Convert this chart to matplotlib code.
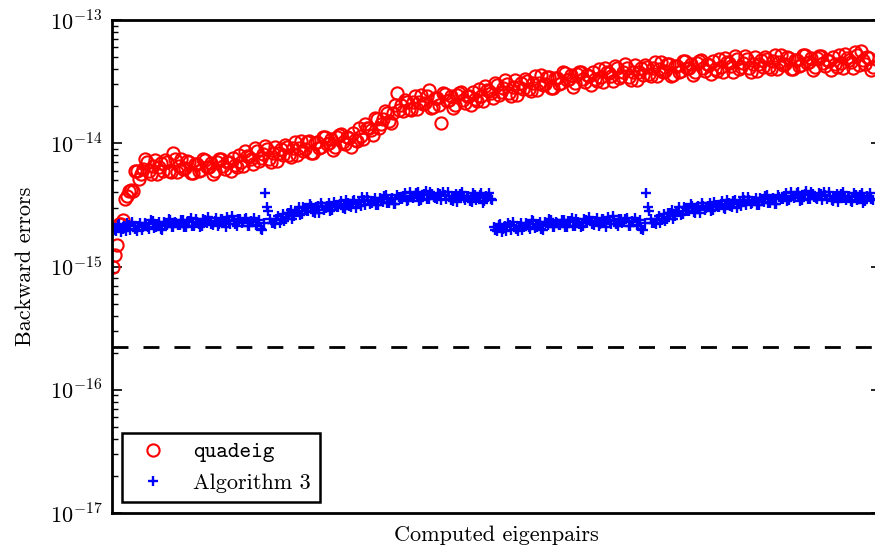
import numpy as np
import matplotlib
matplotlib.use("Agg")
import matplotlib.pyplot as plt
from matplotlib.ticker import LogLocator, FuncFormatter, NullFormatter

# ---------------- data (units of 1e-15) ----------------
quadeig_err = [
    1.0, 1.24, 1.5, 2.2, 2.2, 2.4, 3.5, 3.7, 4.1, 4.2,
    4.1, 5.9, 5.9, 5.1, 5.6, 6.2, 7.4, 7.0, 6.0, 5.6,
    6.5, 7.3, 5.6, 6.4, 6.9, 6.0, 7.3, 7.0, 6.0, 5.8,
    8.3, 7.5, 5.8, 6.5, 7.5, 6.2, 6.3, 7.2, 7.1, 5.7,
    5.7, 6.8, 6.8, 6.0, 6.1, 7.4, 7.3, 6.4, 6.4, 6.9,
    5.6, 5.9, 7.1, 7.4, 7.4, 6.5, 6.2, 7.1, 7.0, 5.9,
    7.6, 6.6, 6.4, 8.1, 7.0, 6.5, 8.6, 7.9, 7.8, 7.5,
    6.8, 9.1, 8.7, 7.2, 7.6, 8.2, 9.5, 8.9, 7.5, 7.1,
    8.3, 9.4, 7.2, 8.4, 9.0, 8.0, 9.6, 9.3, 8.1, 7.8,
    9.1, 10.2, 8.0, 9.1, 10.5, 8.7, 9.0, 10.3, 10.4, 8.3,
    8.4, 10.1, 10.2, 9.1, 9.3, 11.3, 11.3, 9.9, 10.1, 10.9,
    8.8, 9.4, 11.2, 11.7, 11.8, 10.3, 9.8, 11.2, 11.1, 9.4,
    12.1, 10.7, 10.4, 13.2, 11.5, 10.8, 14.3, 13.4, 13.3, 12.9,
    11.7, 16.1, 15.6, 13.3, 14.3, 15.7, 18.4, 17.5, 15.2, 14.6,
    17.5, 20.3, 25.5, 18.7, 20.4, 18.2, 22.4, 21.7, 19.1, 18.5,
    21.6, 24.3, 19.0, 21.5, 24.8, 20.7, 21.2, 24.3, 27.1, 19.4,
    19.6, 23.2, 23.3, 20.6, 14.6, 25.5, 25.3, 22.1, 22.4, 24.1,
    19.4, 20.6, 24.6, 25.7, 25.9, 22.5, 21.4, 24.4, 24.0, 20.4,
    26.0, 22.8, 22.1, 27.7, 24.0, 22.2, 29.1, 27.0, 26.5, 25.5,
    23.1, 31.0, 29.6, 24.7, 25.9, 28.0, 32.3, 30.3, 25.8, 24.3,
    28.4, 32.3, 24.8, 28.7, 31.0, 27.3, 33.2, 31.8, 27.8, 26.7,
    31.1, 35.0, 27.2, 30.8, 35.7, 29.6, 30.5, 34.8, 34.8, 27.9,
    28.3, 33.7, 33.9, 30.1, 30.8, 37.6, 37.4, 32.6, 33.2, 35.7,
    28.7, 30.6, 36.5, 38.0, 38.2, 33.2, 31.6, 35.9, 35.4, 29.9,
    38.1, 33.3, 32.0, 40.0, 34.4, 31.6, 41.0, 38.0, 37.0, 35.4,
    31.8, 42.6, 40.5, 33.6, 35.2, 38.0, 43.8, 40.9, 34.7, 32.6,
    38.0, 43.1, 32.9, 38.0, 40.8, 35.9, 43.5, 41.7, 36.4, 34.9,
    40.6, 45.5, 35.3, 39.9, 46.0, 38.0, 38.9, 44.2, 43.9, 35.1,
    35.6, 42.2, 42.3, 37.6, 38.5, 46.9, 46.7, 40.6, 41.1, 44.1,
    35.5, 37.7, 44.9, 46.8, 47.0, 40.7, 38.7, 43.9, 43.1, 36.4,
    46.3, 40.4, 38.7, 48.3, 41.5, 38.1, 49.4, 45.6, 44.4, 42.2,
    37.9, 50.7, 48.2, 39.9, 41.7, 44.8, 51.5, 48.1, 40.7, 38.1,
    44.3, 50.2, 38.3, 44.1, 47.3, 41.5, 50.1, 47.9, 41.8, 40.0,
    46.4, 51.9, 40.2, 45.3, 52.1, 43.1, 44.0, 50.0, 49.6, 39.7,
    40.2, 47.6, 47.6, 42.2, 43.1, 52.4, 52.0, 45.1, 45.6, 48.9,
    39.3, 41.6, 49.5, 51.4, 51.4, 44.5, 42.2, 47.8, 46.9, 39.5,
    50.2, 43.8, 41.9, 52.2, 44.8, 41.1, 53.4, 49.2, 47.8, 45.5,
    40.9, 54.5, 51.7, 42.8, 56.4, 47.7, 44.2, 50.4, 48.8, 39.1,
    41.4,
]

# Algorithm 3: the eigenpairs come in two halves with identical errors
alg3_half = [
    2.10, 1.98, 1.95, 2.18, 2.20, 1.92, 2.02, 2.15, 1.95, 2.26,
    2.18, 1.98, 2.28, 2.12, 2.02, 1.94, 2.13, 2.26, 1.97, 2.08,
    2.26, 2.20, 2.10, 2.02, 2.37, 2.33, 2.05, 2.08, 2.21, 2.28,
    2.01, 1.99, 2.28, 2.24, 2.18, 2.42, 2.38, 2.09, 2.08, 2.30,
    2.24, 2.16, 2.16, 2.37, 2.40, 2.08, 2.08, 2.33, 2.32, 2.46,
    2.15, 2.15, 2.43, 2.29, 2.22, 2.09, 2.14, 2.44, 2.39, 2.24,
    2.50, 2.36, 2.20, 2.16, 2.32, 2.48, 2.14, 2.21, 2.45, 2.43,
    2.26, 2.10, 2.54, 2.36, 2.20, 2.55, 2.37, 2.20, 2.13, 2.41,
    2.41, 2.25, 2.29, 2.44, 2.48, 2.13, 2.14, 2.36, 2.28, 2.46,
    2.18, 2.13, 2.40, 2.01, 1.96, 2.26, 3.92, 3.02, 2.80, 2.43,
    2.27, 2.27, 2.21, 2.43, 2.55, 2.27, 2.39, 2.67, 2.36, 2.44,
    2.71, 2.74, 2.88, 2.43, 2.59, 2.78, 2.78, 3.05, 2.60, 2.68,
    3.02, 2.98, 2.82, 2.80, 3.19, 3.09, 2.78, 2.74, 3.02, 3.09,
    2.74, 3.26, 3.12, 2.86, 3.00, 3.07, 3.29, 2.82, 2.90, 3.31,
    3.13, 3.05, 3.03, 3.23, 3.37, 2.97, 2.95, 3.44, 3.30, 3.08,
    3.06, 3.39, 3.47, 2.96, 3.20, 3.35, 3.09, 3.63, 3.48, 3.15,
    3.63, 3.47, 3.22, 3.26, 3.40, 3.58, 3.14, 3.15, 3.60, 3.55,
    3.35, 3.74, 3.80, 3.29, 3.30, 3.52, 3.57, 3.23, 3.24, 3.78,
    3.69, 3.50, 3.55, 3.72, 3.92, 3.43, 3.45, 3.99, 3.75, 3.58,
    3.63, 3.93, 4.01, 3.41, 3.49, 3.83, 3.86, 4.13, 3.56, 3.56,
    4.01, 3.89, 3.66, 3.61, 3.50, 3.93, 3.89, 3.44, 4.02, 3.83,
    3.53, 4.01, 3.71, 3.48, 3.40, 3.70, 3.88, 3.36, 3.58, 3.90,
    4.00, 3.57, 3.46, 3.75, 3.71, 3.42, 3.35, 3.93, 3.79, 3.49,
    3.60, 3.82, 3.92, 3.30, 3.41, 3.70, 3.66, 3.98, 3.51, 3.44,
]
alg3_err = alg3_half + alg3_half

unit = 1e-15
machine_eps = 2.220446049250313e-16
y_ticks = [1e-17, 1e-16, 1e-15, 1e-14, 1e-13]
series_labels = ["quadeig", "Algorithm 3"]
x_label = "Computed eigenpairs"
y_label = "Backward errors"

# ---------------- styling ----------------
plt.rcParams["font.family"] = ["cmr10", "DejaVu Serif"]
plt.rcParams["mathtext.fontset"] = "cm"
plt.rcParams["axes.formatter.use_mathtext"] = True
plt.rcParams["lines.scale_dashes"] = False

fig = plt.figure(figsize=(8.75, 5.48), dpi=100)
ax = fig.add_axes([112 / 875, 1 - 513 / 548, 769 / 875, 493 / 548])

n_q = len(quadeig_err)
x_q = np.arange(n_q)
x_a = np.linspace(0, n_q - 1, len(alg3_err))

ax.plot(x_q, np.array(quadeig_err) * unit, linestyle="none", marker="o",
        markersize=8.8, markerfacecolor="none", markeredgecolor="#ff0000",
        markeredgewidth=1.5, label=series_labels[0])
ax.plot(x_a, np.array(alg3_err) * unit, linestyle="none", marker="+",
        markersize=7.5, markeredgecolor="#0000ff", markeredgewidth=1.7,
        label=series_labels[1])
ax.axhline(machine_eps, color="black", linewidth=2, dashes=(11.5, 10.8))

ax.set_yscale("log")
ax.set_ylim(y_ticks[0], y_ticks[-1])
ax.set_xlim(-0.5, (n_q - 1) * 1.0105)
ax.set_xticks([])

ax.set_yticks(y_ticks)
ax.yaxis.set_minor_locator(LogLocator(base=10, subs=np.arange(2, 10), numticks=20))
ax.yaxis.set_minor_formatter(NullFormatter())
ax.yaxis.set_major_formatter(FuncFormatter(lambda v, p: r"$10^{%d}$" % int(round(np.log10(v)))))
ax.tick_params(axis="y", which="both", direction="in", left=True, right=True,
               labelsize=16, pad=7)
ax.tick_params(axis="y", which="major", length=7, width=1.2)
ax.tick_params(axis="y", which="minor", length=4, width=1.0)
for s in ax.spines.values():
    s.set_linewidth(2)

ax.set_xlabel(x_label, fontsize=16)
ax.xaxis.set_label_coords(0.5, -0.025)
ax.xaxis.label.set_verticalalignment("top")
ax.set_ylabel(y_label, fontsize=16)
ax.yaxis.set_label_coords(-0.100, 0.5)

leg = ax.legend(loc="lower left", bbox_to_anchor=(0.013, 0.0223),
                borderaxespad=0, numpoints=1, fontsize=16, fancybox=False,
                framealpha=1, edgecolor="black")
leg.get_frame().set_linewidth(1.8)
leg.get_texts()[0].set_family(["cmtt10", "DejaVu Sans Mono"])

fig.savefig("out.png", dpi=100)
